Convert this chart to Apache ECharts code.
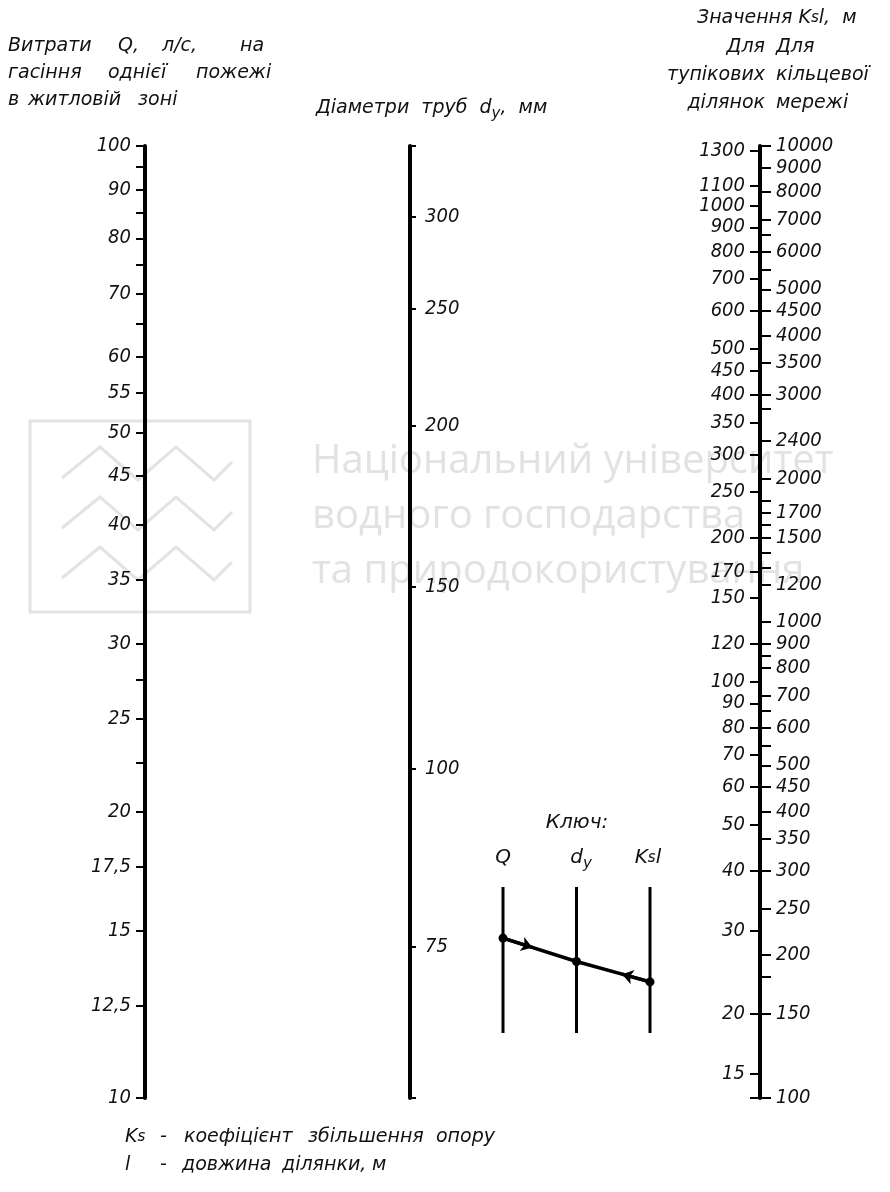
<!DOCTYPE html>
<html><head><meta charset="utf-8">
<script src="https://cdn.jsdelivr.net/npm/echarts@6/dist/echarts.min.js"></script>
<style>html,body{margin:0;padding:0;background:#fff}#c{width:890px;height:1192px}</style>
</head><body><div id="c"></div>
<script>
// ---- Data ----
const qTicks = [10,12.5,15,17.5,20,22.5,25,27.5,30,35,40,45,50,55,60,65,70,75,80,85,90,95,100];
const qLabels = [10,12.5,15,17.5,20,25,30,35,40,45,50,55,60,70,80,90,100];
const dLabels = [75,100,150,200,250,300];
// relative specific resistance for each diameter
const dResistance = [232,41.5,7.13,1.50,0.484,0.199];
const deadEndLabels = [15,20,30,40,50,60,70,80,90,100,120,150,170,200,250,300,350,400,450,500,600,700,800,900,1000,1100,1200,1300];
const ringLabels = [100,150,200,250,300,350,400,450,500,600,700,800,900,1000,1200,1500,1700,2000,2400,3000,3500,4000,4500,5000,6000,7000,8000,9000,10000];
const ringMinor = [180,550,650,850,1300,1400,1600,1800,2800,5500,6500];
const ringPerDeadEnd = 7.5;
// key (schematic example)
const keyQ = 0.65, keyD = 0.49, keyK = 0.35;

const F = '"DejaVu Sans",sans-serif';
const FN = '"DejaVu Sans Condensed","DejaVu Sans",sans-serif';
const INK = '#111';
const chart = echarts.init(document.getElementById('c'), null, {renderer:'canvas'});

const TOP = 146, H = 952;
function hiddenX(gi){return {gridIndex:gi,type:'value',min:0,max:1,show:false};}
const lab = {color:INK,fontSize:20,fontStyle:'italic',fontFamily:FN,showMinLabel:true,showMaxLabel:true};
const comma = v => String(Math.round(v*10)/10).replace('.', ',');
const intf = v => String(Math.round(v));

const dMin = 0.1, dMax = 1000;
const ringMin = 100, ringMax = 10000;
const deMin = ringMin/ringPerDeadEnd, deMax = ringMax/ringPerDeadEnd;

function dFmt(v){
  let best=0,bd=1e9;
  dResistance.forEach((r,i)=>{const d=Math.abs(Math.log(r)-Math.log(v)); if(d<bd){bd=d;best=i;}});
  return String(dLabels[best]);
}

const keyLine = (x) => ({type:'line',xAxisIndex:3,yAxisIndex:4,data:[[x,0],[x,1]],symbol:'none',
  lineStyle:{color:'#000',width:3},silent:true});
const sub = {fontSize:15,fontStyle:'italic',fontFamily:F,fill:INK};
const subLow = {fontSize:15,fontStyle:'italic',fontFamily:F,fill:INK,padding:[12,0,0,0]};
const base = {fontSize:19,fontStyle:'italic',fontFamily:F,fill:INK};
function txt(text,x,y,opt){
  const st = Object.assign({text:text,x:x,y:y,verticalAlign:'middle'},base,opt||{});
  return {type:'text',style:st};
}
const wmStyle = {fontSize:40,fontFamily:'"Open Sans",sans-serif',fill:'#e2e2e2',verticalAlign:'middle'};
function wmt(text,y){return {type:'text',z:-10,style:Object.assign({text:text,x:312,y:y},wmStyle)};}
const zig = y => ({type:'polyline',z:-10,shape:{points:[[62,y+31],[100,y],[138,y+33],[176,y],[214,y+33],[232,y+15]]},style:{fill:'none',stroke:'#e3e3e3',lineWidth:3}});

const option = {
  animation:false,
  backgroundColor:'#fff',
  grid:[
    {left:145,top:TOP,width:1,height:H},
    {left:410,top:TOP,width:1,height:H},
    {left:760,top:TOP,width:1,height:H},
    {left:503,top:887,width:147,height:146}
  ],
  xAxis:[hiddenX(0),hiddenX(1),hiddenX(2),{gridIndex:3,type:'value',min:0,max:2,show:false}],
  yAxis:[
    {gridIndex:0,type:'log',logBase:10,min:10,max:100,position:'left',
     axisLine:{show:true,lineStyle:{color:'#000',width:4}},
     axisTick:{show:true,length:9,lineStyle:{color:'#000',width:2},customValues:qTicks},
     axisLabel:Object.assign({customValues:qLabels,margin:14,formatter:comma},lab),
     splitLine:{show:false},minorTick:{show:false}},
    {gridIndex:1,type:'log',logBase:10,min:dMin,max:dMax,inverse:true,position:'right',
     axisLine:{show:true,lineStyle:{color:'#000',width:4}},
     axisTick:{show:true,length:6,lineStyle:{color:'#000',width:2},customValues:[dMin*1.0001].concat(dResistance,[dMax*0.9999])},
     axisLabel:Object.assign({customValues:dResistance,margin:14,formatter:dFmt},lab),
     splitLine:{show:false}},
    {gridIndex:2,type:'log',logBase:10,min:deMin,max:deMax,position:'left',
     axisLine:{show:true,lineStyle:{color:'#000',width:4}},
     axisTick:{show:true,length:10,lineStyle:{color:'#000',width:2},customValues:deadEndLabels.concat([deMin*1.0001])},
     axisLabel:Object.assign({customValues:deadEndLabels,margin:15,formatter:intf},lab),
     splitLine:{show:false}},
    {gridIndex:2,type:'log',logBase:10,min:ringMin,max:ringMax,position:'right',
     axisLine:{show:false},
     axisTick:{show:true,length:10,lineStyle:{color:'#000',width:2},customValues:ringLabels.concat(ringMinor)},
     axisLabel:Object.assign({customValues:ringLabels,margin:15,formatter:intf},lab),
     splitLine:{show:false}},
    {gridIndex:3,type:'value',min:0,max:1,show:false}
  ],
  series:[
    keyLine(0),keyLine(1),keyLine(2),
    {type:'line',xAxisIndex:3,yAxisIndex:4,data:[[0,keyQ],[1,keyD],[2,keyK]],symbol:'circle',symbolSize:9,
     itemStyle:{color:'#000'},lineStyle:{color:'#000',width:3.5},silent:true,z:5},
    {type:'lines',coordinateSystem:'cartesian2d',xAxisIndex:3,yAxisIndex:4,symbol:['none','arrow'],symbolSize:11,
     lineStyle:{color:'#000',width:3.5,opacity:1},silent:true,z:6,
     data:[{coords:[[0,keyQ],[0.4,keyQ+(keyD-keyQ)*0.4]]},{coords:[[2,keyK],[1.62,keyK+(keyD-keyK)*0.38]]}]}
  ],
  graphic:[
    // watermark
    {type:'rect',z:-10,shape:{x:30,y:421,width:220,height:191},style:{fill:'none',stroke:'#e3e3e3',lineWidth:3}},
    zig(447),zig(497),zig(547),
    wmt('Національний університет',462),wmt('водного господарства',517),wmt('та природокористування',572),
    // left title, word by word
    txt('Витрати',8,46), txt('Q,',118,46), txt('л/с,',162,46), txt('на',240,46),
    txt('гасіння',8,73), txt('однієї',108,73), txt('пожежі',196,73),
    txt('в',8,100), txt('житловій',28,100), txt('зоні',138,100),
    txt('Діаметри  труб  d{s|у},  мм',316,108,{rich:{s:subLow}}),
    txt('Значення K{s|s}l,  м',697,18,{rich:{s:sub}}),
    txt('Для',765,47,{align:'right'}),
    txt('тупікових',765,75,{align:'right'}),
    txt('ділянок',765,103,{align:'right'}),
    txt('Для',776,47),
    txt('кільцевої',776,75),
    txt('мережі',776,103),
    // key labels
    txt('Ключ:',577,823,{align:'center',fontSize:20}),
    txt('Q',503,858,{align:'center',fontSize:20}),
    txt('d{s|у}',581,858,{align:'center',fontSize:20,rich:{s:subLow}}),
    txt('K{s|s}l',648,858,{align:'center',fontSize:20,rich:{s:sub}}),
    // notes, word by word
    txt('K{s|s}',125,1137,{rich:{s:sub}}), txt('-',160,1137), txt('коефіцієнт',184,1137), txt('збільшення',308,1137), txt('опору',436,1137),
    txt('l',125,1165), txt('-',160,1165), txt('довжина',182,1165), txt('ділянки,',282,1165), txt('м',372,1165)
  ]
};
chart.setOption(option);
</script></body></html>
